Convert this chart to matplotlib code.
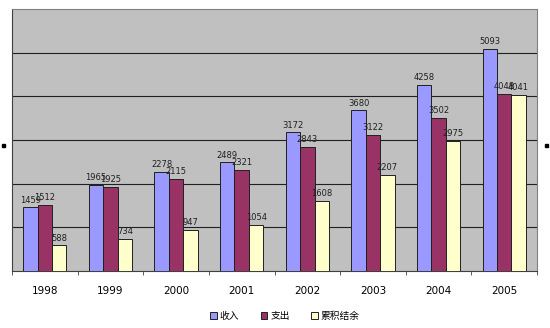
import matplotlib
matplotlib.use("Agg")
import matplotlib.pyplot as plt
import numpy as np
from matplotlib.patches import Patch

plt.rcParams['font.family'] = ['Noto Sans CJK SC', 'DejaVu Sans']

years = ["1998", "1999", "2000", "2001", "2002", "2003", "2004", "2005"]
income = [1459, 1965, 2278, 2489, 3172, 3680, 4258, 5093]
expense = [1512, 1925, 2115, 2321, 2843, 3122, 3502, 4048]
balance = [588, 734, 947, 1054, 1608, 2207, 2975, 4041]
series_names = ["收入", "支出", "累积结余"]
colors = ["#9999FF", "#993366", "#FFFFCC"]

fig = plt.figure(figsize=(5.5, 3.28), dpi=100)
ax = fig.add_axes([12/550, 57/328, 525/550, 262/328])
ax.set_facecolor("#C0C0C0")

x = np.arange(len(years))
w = 0.22
for i, (vals, c) in enumerate(zip([income, expense, balance], colors)):
    bars = ax.bar(x + (i - 1) * w, vals, w, color=c, edgecolor="#202020", linewidth=0.7, zorder=3)
    ax.bar_label(bars, labels=[str(v) for v in vals], padding=2, fontsize=6, family='DejaVu Sans', color="#202020")

ax.set_xlim(-0.5, len(years) - 0.5)
ax.set_ylim(0, 6000)
ax.set_yticks(range(1000, 6000, 1000))
ax.yaxis.grid(True, color="#202020", linewidth=0.8, zorder=0)
ax.tick_params(axis='y', left=False, labelleft=False)
ax.set_xticks(x)
ax.set_xticklabels(years, fontsize=7.5, family='DejaVu Sans')
ax.tick_params(axis='x', length=0, pad=11)
ax.set_xticks(np.arange(-0.5, len(years) + 0.5, 1), minor=True)
ax.tick_params(axis='x', which='minor', length=3, color="#404040")
for s in ["top", "right"]:
    ax.spines[s].set_color("#808080")
ax.spines["left"].set_color("#404040")
ax.spines["bottom"].set_color("#404040")

handles = [Patch(facecolor=c, edgecolor="#202020", linewidth=0.7) for c in colors]
fig.legend(handles, series_names, loc="center", bbox_to_anchor=(285/550, 1 - 316/328),
           ncol=3, frameon=False, fontsize=7, handlelength=0.7, handleheight=0.7,
           handletextpad=0.3, columnspacing=2.2)

# small marks at the edges
fig.patches.append(plt.Rectangle((2/550, 1 - 147/328), 3/550, 3/328, transform=fig.transFigure, color="black"))
fig.patches.append(plt.Rectangle((545/550, 1 - 147/328), 3/550, 3/328, transform=fig.transFigure, color="black"))

fig.savefig("out.png", dpi=100)
